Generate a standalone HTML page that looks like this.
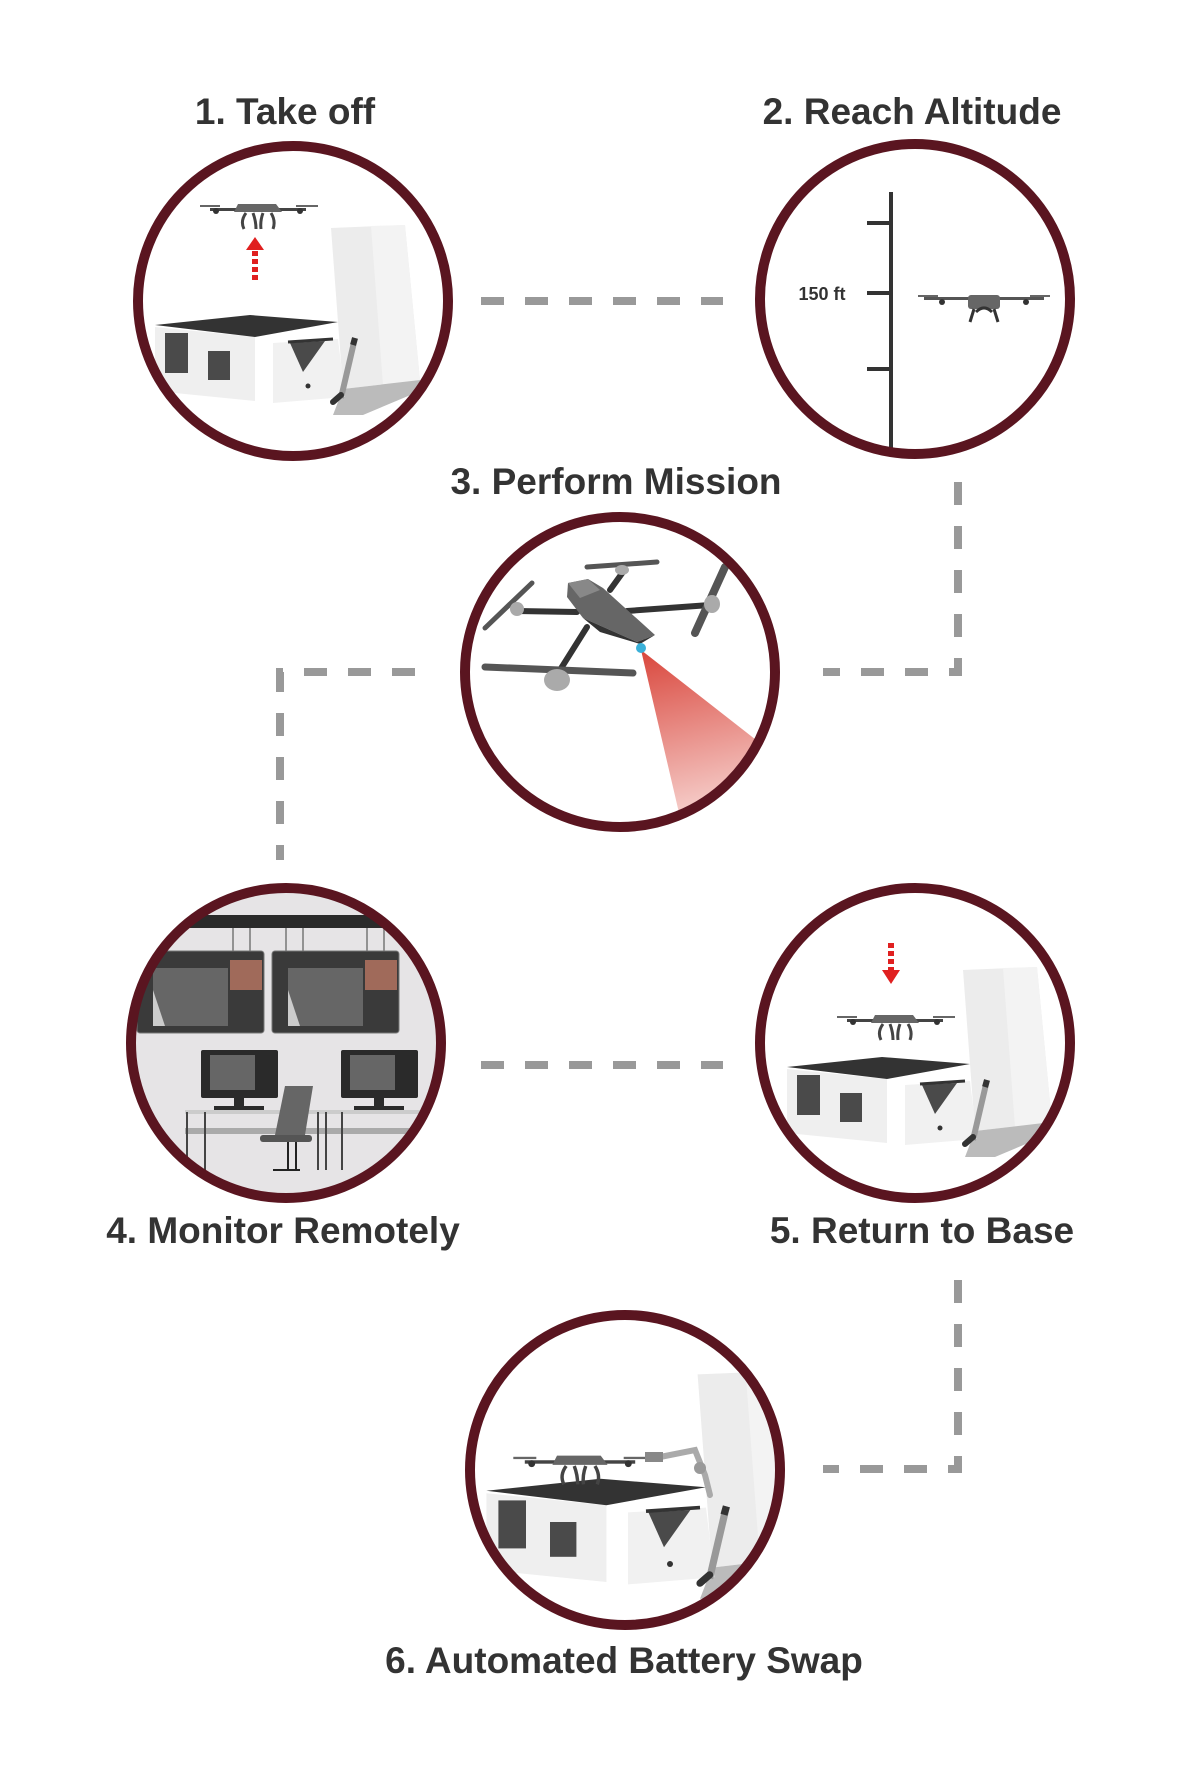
<!DOCTYPE html>
<html><head><meta charset="utf-8"><style>
html,body{margin:0;padding:0;background:#fff}
svg{display:block}
text{font-family:"Liberation Sans",sans-serif;font-weight:bold;fill:#333}
</style></head><body>
<svg width="1200" height="1770" viewBox="0 0 1200 1770" xmlns="http://www.w3.org/2000/svg">
<defs>
<linearGradient id="cone" x1="0" y1="0" x2="0.2" y2="1">
<stop offset="0" stop-color="#d9463c"/><stop offset="1" stop-color="#fdf0ee"/>
</linearGradient>
<clipPath id="c1"><circle cx="293" cy="301" r="155"/></clipPath>
<clipPath id="c3"><circle cx="620" cy="672" r="155"/></clipPath>
<clipPath id="c4"><circle cx="286" cy="1043" r="155"/></clipPath>
<clipPath id="c5"><circle cx="915" cy="1043" r="155"/></clipPath>
<clipPath id="c6"><circle cx="625" cy="1470" r="155"/></clipPath>
<g id="drone">
<rect x="-48" y="-5" width="96" height="3" fill="#444"/>
<rect x="-58" y="-8" width="20" height="2" fill="#666"/>
<rect x="38" y="-8" width="22" height="2" fill="#666"/>
<circle cx="-42" cy="-2" r="3" fill="#333"/><circle cx="42" cy="-2" r="3" fill="#333"/>
<path d="M-20,-9 L18,-9 L24,-1 L-24,-1Z" fill="#666"/>
<path d="M-12,0 Q-18,8 -14,16 M-5,0 Q-2,8 -2,16 M5,0 Q2,8 3,16 M13,0 Q18,8 15,16" stroke="#444" stroke-width="3" fill="none"/>
</g>
<g id="bldg">
<path d="M38,-73 L112,-76 L127,79 L50,88Z" fill="#ececec"/>
<path d="M78,-75 L112,-76 L127,79 L90,84Z" fill="#f3f3f3"/>
<path d="M50,88 L127,79 L127,90 L70,114 L40,114Z" fill="#bbb"/>
<path d="M-138,26 L-38,36 L-38,100 L-138,90Z" fill="#efefef"/>
<path d="M-138,24 L-43,14 L45,21 L-38,36Z" fill="#333"/>
<path d="M-20,42 L45,38 L52,96 L-20,102Z" fill="#f1f1f1"/>
<rect x="-128" y="32" width="23" height="40" fill="#4a4a4a"/>
<rect x="-85" y="50" width="22" height="29" fill="#4a4a4a"/>
<path d="M-3,42 L32,40 L10,71Z" fill="#4a4a4a"/>
<path d="M-5,41 L40,38" stroke="#333" stroke-width="3"/>
<circle cx="15" cy="85" r="2.5" fill="#333"/>
<path d="M62,37 L48,97" stroke="#999" stroke-width="6"/>
<path d="M62,37 L60,44" stroke="#333" stroke-width="6"/>
<path d="M48,94 L40,101" stroke="#333" stroke-width="6" stroke-linecap="round"/>
</g>
</defs>

<!-- connectors -->
<g stroke="#999" stroke-width="8" fill="none" stroke-dasharray="23 21">
<path d="M481,301 H723"/>
<path d="M958,482 V672 H823"/>
<path d="M415,672 H280 V860"/>
<path d="M481,1065 H723"/>
<path d="M958,1280 V1469 H823"/>
</g>

<!-- labels -->
<text x="285" y="124" font-size="37" text-anchor="middle">1. Take off</text>
<text x="912" y="124" font-size="37" text-anchor="middle">2. Reach Altitude</text>
<text x="616" y="494" font-size="37" text-anchor="middle">3. Perform Mission</text>
<text x="283" y="1243" font-size="37" text-anchor="middle">4. Monitor Remotely</text>
<text x="922" y="1243" font-size="37" text-anchor="middle">5. Return to Base</text>
<text x="624" y="1673" font-size="37" text-anchor="middle">6. Automated Battery Swap</text>

<!-- circle 1 -->
<g clip-path="url(#c1)"><use href="#bldg" x="293" y="301"/></g>
<use href="#drone" x="258" y="213"/>
<path d="M255,280 V250" stroke="#e02020" stroke-width="6" stroke-dasharray="5 3"/>
<path d="M246,250 L255,237 L264,250Z" fill="#e02020"/>
<circle cx="293" cy="301" r="155" fill="none" stroke="#5a1520" stroke-width="10"/>

<!-- circle 2 -->
<path d="M891,192 V452" stroke="#333" stroke-width="4"/>
<path d="M867,223 H891 M867,293 H891 M867,369 H891" stroke="#333" stroke-width="4"/>
<text x="822" y="300" font-size="18" text-anchor="middle">150 ft</text>
<g transform="translate(984,300)">
<rect x="-60" y="-3" width="120" height="3" fill="#555"/>
<rect x="-66" y="-5" width="20" height="2" fill="#666"/><rect x="46" y="-5" width="20" height="2" fill="#666"/>
<rect x="-16" y="-5" width="32" height="14" rx="3" fill="#666"/>
<path d="M-10,9 L-14,22 M10,9 L14,22 M-8,12 Q0,4 8,12" stroke="#333" stroke-width="3" fill="none"/>
<circle cx="-42" cy="2" r="3" fill="#333"/><circle cx="42" cy="2" r="3" fill="#333"/>
</g>
<circle cx="915" cy="299" r="155" fill="none" stroke="#5a1520" stroke-width="10"/>

<!-- circle 3 -->
<g clip-path="url(#c3)">
<path d="M641,650 L820,790 L690,860Z" fill="url(#cone)"/>
</g>
<g stroke-linecap="round">
<path d="M517,611 L577,612 M627,611 L710,605 M610,590 L623,572 M587,627 L560,670" stroke="#333" stroke-width="6"/>
<path d="M587,567 L657,562" stroke="#555" stroke-width="5"/>
<path d="M485,628 L532,583" stroke="#555" stroke-width="5"/>
<path d="M695,633 L725,567" stroke="#555" stroke-width="8"/>
<path d="M485,667 L633,673" stroke="#555" stroke-width="7"/>
</g>
<ellipse cx="517" cy="609" rx="7" ry="7" fill="#aaa"/>
<ellipse cx="712" cy="604" rx="8" ry="9" fill="#aaa"/>
<ellipse cx="622" cy="570" rx="7" ry="5" fill="#aaa"/>
<ellipse cx="557" cy="680" rx="13" ry="11" fill="#aaa"/>
<path d="M568,583 L588,579 L603,588 L655,635 L637,642 L583,618 L567,597Z" fill="#666"/>
<path d="M568,583 L588,579 L600,590 L580,598Z" fill="#888"/>
<path d="M583,618 L637,642 L655,635 L640,644 L600,632Z" fill="#333"/>
<circle cx="641" cy="648" r="5" fill="#3ab0d8"/>
<circle cx="620" cy="672" r="155" fill="none" stroke="#5a1520" stroke-width="10"/>

<!-- circle 4 -->
<g clip-path="url(#c4)">
<rect x="120" y="880" width="330" height="330" fill="#e6e4e6"/>
<rect x="120" y="915" width="330" height="13" fill="#2a2a2a"/>
<path d="M233,928 V951 M250,928 V951 M286,928 V951 M303,928 V951 M367,928 V951 M384,928 V951" stroke="#777" stroke-width="1.5"/>
<rect x="137" y="951" width="127" height="82" rx="3" fill="#3a3a3a" stroke="#777"/>
<rect x="153" y="968" width="75" height="58" fill="#666"/>
<rect x="230" y="960" width="32" height="30" fill="#a06a5a"/>
<rect x="272" y="951" width="127" height="82" rx="3" fill="#3a3a3a" stroke="#777"/>
<rect x="288" y="968" width="75" height="58" fill="#666"/>
<rect x="365" y="960" width="32" height="30" fill="#a06a5a"/>
<path d="M153,990 L165,1026 L153,1026Z M288,990 L300,1026 L288,1026Z" fill="#ccc"/>
<rect x="201" y="1050" width="77" height="48" rx="2" fill="#2a2a2a"/>
<rect x="210" y="1055" width="45" height="35" fill="#666"/>
<rect x="234" y="1098" width="10" height="10" fill="#2a2a2a"/><rect x="214" y="1106" width="50" height="4" fill="#2a2a2a"/>
<rect x="341" y="1050" width="77" height="48" rx="2" fill="#2a2a2a"/>
<rect x="350" y="1055" width="45" height="35" fill="#666"/>
<rect x="374" y="1098" width="10" height="10" fill="#2a2a2a"/><rect x="354" y="1106" width="50" height="4" fill="#2a2a2a"/>
<rect x="185" y="1110" width="260" height="4" fill="#ccc"/>
<rect x="185" y="1128" width="260" height="6" fill="#aaa"/>
<path d="M187,1112 V1170 M205,1112 V1170 M318,1112 V1170 M326,1112 V1170 M342,1112 V1170" stroke="#444" stroke-width="2"/>
<path d="M285,1086 L313,1086 L305,1135 L275,1135Z" fill="#666"/>
<rect x="260" y="1135" width="52" height="7" rx="3" fill="#555"/>
<path d="M288,1142 V1170 M296,1142 V1170 M273,1170 H300" stroke="#222" stroke-width="2"/>
</g>
<circle cx="286" cy="1043" r="155" fill="none" stroke="#5a1520" stroke-width="10"/>

<!-- circle 5 -->
<g clip-path="url(#c5)"><use href="#bldg" x="925" y="1043"/></g>
<use href="#drone" x="895" y="1024"/>
<path d="M891,943 V970" stroke="#e02020" stroke-width="6" stroke-dasharray="5 3"/>
<path d="M882,970 L891,984 L900,970Z" fill="#e02020"/>
<circle cx="915" cy="1043" r="155" fill="none" stroke="#5a1520" stroke-width="10"/>

<!-- circle 6 -->
<g clip-path="url(#c6)"><g transform="translate(652,1462) scale(1.2)"><use href="#bldg"/></g></g>
<g transform="translate(580,1466) scale(1.15)"><use href="#drone"/></g>
<path d="M655,1458 L695,1450 L705,1475 L710,1495" stroke="#aaa" stroke-width="6" fill="none" stroke-linecap="round"/>
<circle cx="700" cy="1468" r="6" fill="#999"/>
<rect x="645" y="1452" width="18" height="10" fill="#888"/>
<circle cx="625" cy="1470" r="155" fill="none" stroke="#5a1520" stroke-width="10"/>
</svg>
</body></html>
